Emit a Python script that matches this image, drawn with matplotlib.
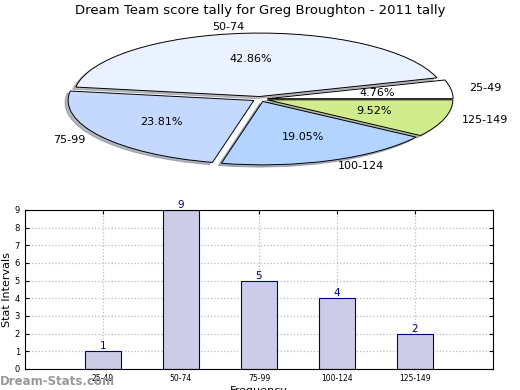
import matplotlib
matplotlib.use('Agg')
import matplotlib.pyplot as plt

title = "Dream Team score tally for Greg Broughton - 2011 tally"
intervals = ['25-49', '50-74', '75-99', '100-124', '125-149']
counts = [1, 9, 5, 4, 2]
pie_colors = ['#ffffff', '#eaf2ff', '#c5d9ff', '#b3d4ff', '#d0ec8c']

fig = plt.figure(figsize=(5.2, 3.9), dpi=100)
fig.text(0.5, 0.974, title, ha='center', va='center', fontsize=9.5)

# pie, squashed into an ellipse
axp = fig.add_axes([0, 0.528, 1, 0.436])
wedges, texts, autotexts = axp.pie(
    counts, labels=intervals, colors=pie_colors, autopct='%.2f%%',
    explode=[0.04] * len(counts),
    shadow={'ox': -0.012, 'oy': -0.025, 'shade': 0.5}, startangle=0,
    wedgeprops={'edgecolor': 'black', 'linewidth': 0.7},
    textprops={'fontsize': 8})
axp.set_aspect('auto')
axp.set_xlim(-1.40, 1.40)
axp.set_ylim(-1.34, 1.34)
axp.axis('off')

# bar chart
ax = fig.add_axes([0.048, 0.054, 0.9, 0.4077])
x = list(range(len(counts)))
bars = ax.bar(x, counts, width=0.46, color='#cccce6', edgecolor='#000080',
              linewidth=0.8)
for xi, c in zip(x, counts):
    ax.text(xi, c, str(c), ha='center', va='bottom', color='#000080',
            fontsize=7.5)
ax.set_xlim(-1.0, 5.0)
ax.set_ylim(0, 9)
ax.set_xticks(x)
ax.set_xticklabels(intervals, fontsize=5.5)
ax.set_yticks(range(10))
ax.tick_params(axis='y', labelsize=6)
ax.tick_params(direction='in', right=True, top=True, length=3)
ax.grid(True, linestyle=':', color='#bbbbbb', linewidth=0.9)
ax.set_axisbelow(True)
ax.set_xlabel('Frequency', fontsize=8, labelpad=2)
ax.set_ylabel('Stat Intervals', fontsize=8, labelpad=2)

fig.text(0.0, 0.022, 'Dream-Stats.com', color='#999999', fontsize=8.5,
         fontweight='bold', ha='left', va='center')

fig.savefig('out.png', dpi=100)
